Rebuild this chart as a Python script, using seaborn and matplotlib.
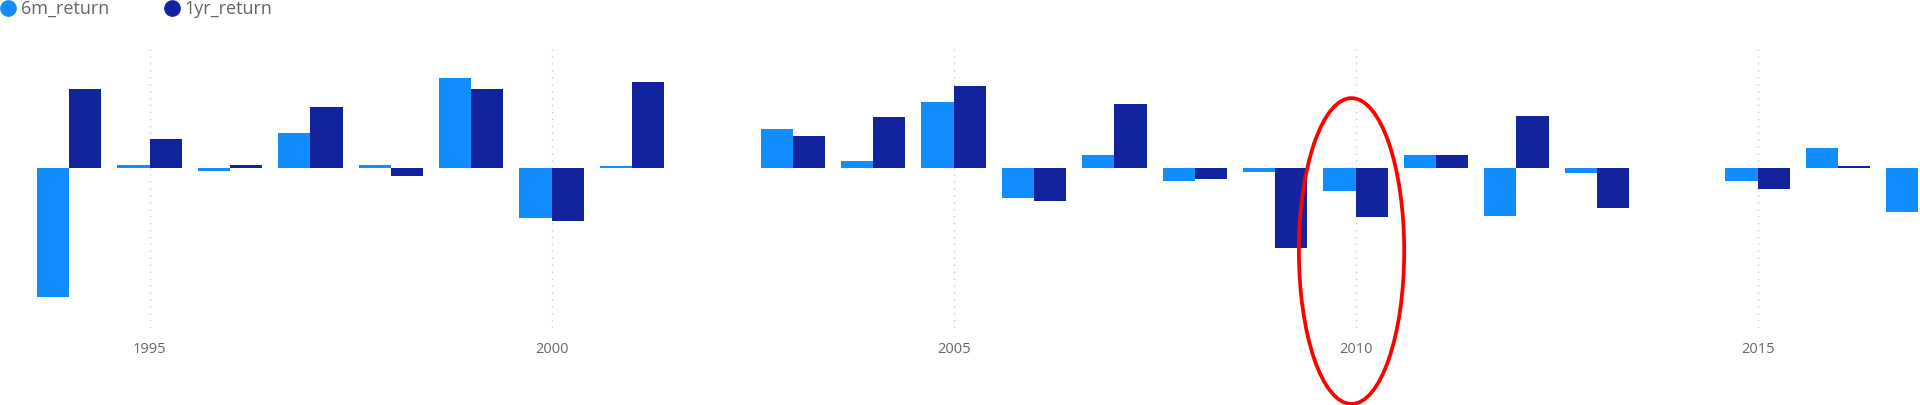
import pandas as pd
import numpy as np
import matplotlib.pyplot as plt
import seaborn as sns
from matplotlib.lines import Line2D
from matplotlib.patches import Ellipse
from matplotlib.transforms import blended_transform_factory

years = list(range(1994, 2018))
ret_6m = [-0.53, 0.01, -0.015, 0.14, 0.012, 0.365, -0.205, 0.005, np.nan, 0.16, 0.026, 0.27,
          -0.125, 0.054, -0.056, -0.016, -0.094, 0.05, -0.197, -0.023, np.nan, -0.056, 0.079, -0.18]
ret_1yr = [0.32, 0.116, 0.01, 0.247, -0.035, 0.32, -0.217, 0.349, np.nan, 0.129, 0.207, 0.334,
           -0.134, 0.259, -0.045, -0.326, -0.203, 0.05, 0.211, -0.166, np.nan, -0.088, 0.008, np.nan]
series_names = ['6m_return', '1yr_return']
series_colors = ['#118DFF', '#12239E']
tick_years = [1995, 2000, 2005, 2010, 2015]
highlight_year = 2010

df = pd.DataFrame({'year': years, '6m_return': ret_6m, '1yr_return': ret_1yr})
long_df = df.melt(id_vars='year', var_name='series', value_name='value').dropna()

sns.set_style('white')
plt.rcParams['font.family'] = ['Open Sans', 'DejaVu Sans']

fig = plt.figure(figsize=(19.2, 4.05), dpi=100)
ax = fig.add_axes([0, 0.19, 1, 0.689])

sns.barplot(data=long_df, x='year', y='value', hue='series', hue_order=series_names,
            palette=series_colors, native_scale=True, width=0.8, errorbar=None,
            legend=False, saturation=1, linewidth=0, ax=ax, zorder=2)

ax.set_xlim(1993.14, 2017.02)
ax.set_ylim(-0.655, 0.485)
ax.set_xticks(tick_years)
ax.set_xticklabels([str(y) for y in tick_years], fontsize=10.5, color='#666666')
ax.set_yticks([])
ax.set_xlabel('')
ax.set_ylabel('')
ax.tick_params(axis='x', length=0, pad=10)
ax.grid(axis='x', linestyle=(0, (1, 4)), color='#c8c8c8', linewidth=1)
for s in ax.spines.values():
    s.set_visible(False)

# red highlight ring around 2010
trans = blended_transform_factory(ax.transData, ax.transAxes)
ring = Ellipse((highlight_year - 0.05, 0.276), 1.31, 1.096, transform=trans,
               fill=False, edgecolor='#ff0000', linewidth=2.7, clip_on=False, zorder=5)
ax.add_patch(ring)

handles = [Line2D([0], [0], marker='o', linestyle='', markersize=11,
                  markerfacecolor=c, markeredgecolor=c) for c in series_colors]
leg = fig.legend(handles, series_names, loc='upper left', bbox_to_anchor=(-0.009, 1.04),
                 ncol=2, frameon=False, fontsize=13, handletextpad=0.2,
                 columnspacing=3.0, handlelength=1.0)
for t in leg.get_texts():
    t.set_color('#666666')

plt.savefig('out.png', dpi=100)
